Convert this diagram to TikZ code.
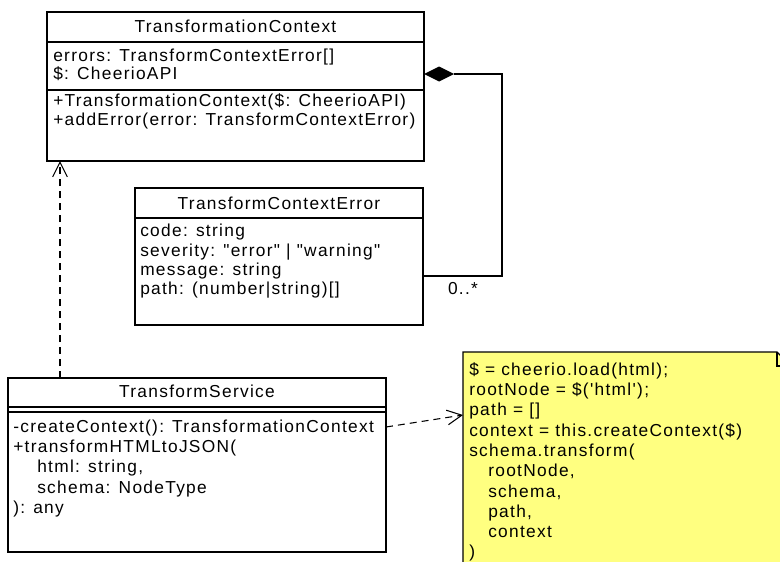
\documentclass[tikz,border=0pt]{standalone}
\usepackage{fontspec}
\setmainfont[LetterSpace=7.5, Ligatures=TeXOff]{Liberation Sans}
\usetikzlibrary{arrows.meta,calc}
\definecolor{noteyellow}{RGB}{255,255,128}
\begin{document}
\begin{tikzpicture}[x=0.75pt,y=-0.75pt,
  umlbox/.style={draw, line width=0.9pt, fill=white, inner sep=0pt, outer sep=0pt, anchor=north west},
  txt/.style={inner sep=0pt, anchor=base west, font=\fontsize{13}{15}\selectfont},
  ttl/.style={inner sep=0pt, anchor=base, font=\fontsize{13}{15}\selectfont},
  sepline/.style={line width=0.9pt},
  dep/.style={line width=0.8pt, dash pattern=on 5.25pt off 3.75pt, -{Straight Barb[length=11pt,width=11pt]}},
  assoc/.style={line width=0.9pt}]
\useasboundingbox (0,0) rectangle (780,561);
\fill[white] (0,0) rectangle (780,561);
\clip (0,0) rectangle (780,561);

% TransformationContext
\node[umlbox, minimum width=282.75pt, minimum height=111.75pt] (tc) at (47,12) {};
\draw[sepline] (47,42) -- (424,42);
\draw[sepline] (47,90) -- (424,90);
\node[ttl] (tc-t) at (235.5,32) {TransformationContext};
\node[txt] (tc-a1) at (53,61) {errors: TransformContextError[]};
\node[txt] (tc-a2) at (53,79) {\$: CheerioAPI};
\node[txt] (tc-m1) at (53,106) {+TransformationContext(\$: CheerioAPI)};
\node[txt] (tc-m2) at (53,125) {+addError(error: TransformContextError)};

% TransformContextError
\node[umlbox, minimum width=216pt, minimum height=102.75pt] (tce) at (135,188) {};
\draw[sepline] (135,218) -- (423,218);
\node[ttl] (tce-t) at (279,209) {TransformContextError};
\node[txt] (tce-a1) at (140,236) {code: string};
\node[txt] (tce-a2) at (140,256) {severity: "error" | "warning"};
\node[txt] (tce-a3) at (140,275) {message: string};
\node[txt] (tce-a4) at (140,294) {path: (number|string)[]};

% TransformService
\node[umlbox, minimum width=283.5pt, minimum height=130.5pt] (ts) at (8,378) {};
\draw[sepline] (8,407) -- (386,407);
\draw[sepline] (8,412) -- (386,412);
\node[ttl] (ts-t) at (197,397) {TransformService};
\node[txt] (ts-m1) at (13,432) {-createContext(): TransformationContext};
\node[txt] (ts-m2) at (13,452) {+transformHTMLtoJSON(};
\node[txt] (ts-m3) at (37,472) {html: string,};
\node[txt] (ts-m4) at (37,493) {schema: NodeType};
\node[txt] (ts-m5) at (13,513) {): any};

% Note
\node[inner sep=0pt, outer sep=0pt, minimum width=243.75pt, minimum height=186pt, anchor=north west] (note) at (463,352) {};
\draw[line width=0.9pt, fill=noteyellow] (463,352) -- (777,352) -- (791,366) -- (791,600) -- (463,600) -- cycle;
\draw[line width=0.9pt] (777,352) -- (777,366) -- (791,366);
\node[txt] (n1) at (469,375) {\$ = cheerio.load(html);};
\node[txt] (n2) at (469,395) {rootNode = \$('html');};
\node[txt] (n3) at (469,415) {path = []};
\node[txt] (n4) at (469,436) {context = this.createContext(\$)};
\node[txt] (n5) at (469,456) {schema.transform(};
\node[txt] (n6) at (488,476) {rootNode,};
\node[txt] (n7) at (488,497) {schema,};
\node[txt] (n8) at (488,517) {path,};
\node[txt] (n9) at (488,537) {context};
\node[txt] (n10) at (469,557) {)};

% Connectors
\draw[dep] ([xshift=39pt]ts.north west) -- ([xshift=9.75pt]tc.south west);
\draw[dep] ([yshift=-36.75pt]ts.north east) -- ([yshift=-47.25pt]note.north west);
\coordinate (dtip) at ([yshift=-46.5pt]tc.north east);
\fill (dtip) -- ++(15,-7.5) -- ++(15,7.5) coordinate (dend) -- ++(-15,7.5) -- cycle;
\draw[assoc] (dend) -- (502,74) -- (502,276) -- ([yshift=-66pt]tce.north east);
\node[ttl] (mult) at (463,294) {0..*};
\end{tikzpicture}
\end{document}
